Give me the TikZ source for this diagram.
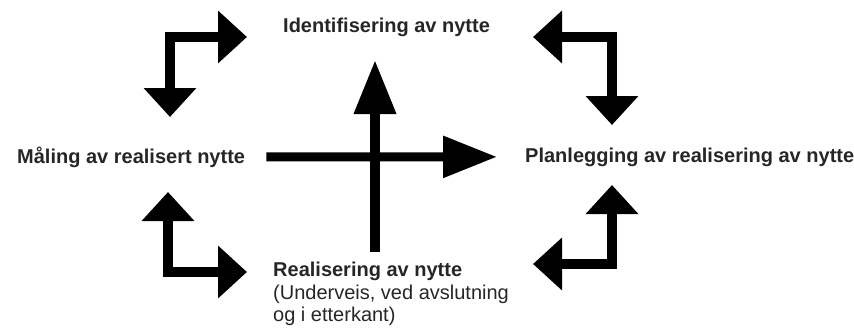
\documentclass[tikz,border=0pt]{standalone}
\usepackage{fontspec}
\setmainfont{Liberation Sans}
\usetikzlibrary{arrows.meta}

\begin{document}
\begin{tikzpicture}[x=1pt,y=-1pt,
    txt/.style={inner sep=0pt, text=black!85, font=\fontsize{20}{22.5}\selectfont},
    boldtxt/.style={txt, font=\fontsize{20}{22.5}\selectfont\bfseries},
    elbow/.style={line width=10pt, line join=miter,
        {Triangle[length=29pt,width=51pt]}-{Triangle[length=29pt,width=51pt]}},
    mainarrow/.style={line width=9pt, -{Triangle[length=54pt,width=40pt]}}]

    % Fix the page size
    \useasboundingbox (0,0) rectangle (854,329);

    % The four phases
    \node[boldtxt, anchor=base west] (ident) at (283,33) {Identifisering av nytte};
    \node[boldtxt, anchor=base west] (maaling) at (17,163) {Måling av realisert nytte};
    \node[boldtxt, anchor=base west] (planlegging) at (525,162) {Planlegging av realisering av nytte};
    \node[txt, anchor=north west, align=left] (realisering) at (273,262)
        {\textbf{Realisering av nytte}\\(Underveis, ved avslutning\\og i etterkant)};

    % Corner points of the elbow arrows (start, corner, end)
    \coordinate (tls) at (170,117); \coordinate (tlc) at (170,37);  \coordinate (tle) at (247,37);
    \coordinate (trs) at (533,37);  \coordinate (trc) at (612,37);  \coordinate (tre) at (612,125);
    \coordinate (bls) at (168,192); \coordinate (blc) at (168,272); \coordinate (ble) at (247,272);
    \coordinate (brs) at (612,185); \coordinate (brc) at (612,264); \coordinate (bre) at (533,264);

    % Elbow arrows in the corners
    \foreach \s/\c/\e in {tls/tlc/tle, trs/trc/tre, bls/blc/ble, brs/brc/bre} {
        \draw[elbow] (\s) -- (\c) -- (\e);
    }

    % Central cross
    \coordinate (vfoot) at (375,252);
    \coordinate (vhead) at (375,60);
    \draw[mainarrow] (maaling.east) -- (planlegging.west)
        [shorten <=21pt, shorten >=28pt];
    \draw[mainarrow, line width=10pt] (vfoot) -- (vhead);

\end{tikzpicture}
\end{document}
